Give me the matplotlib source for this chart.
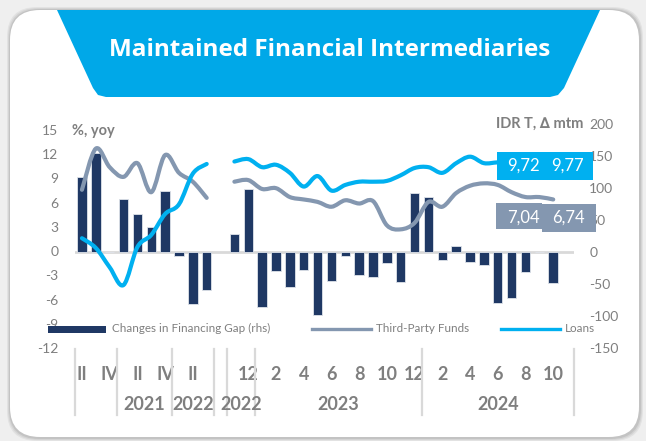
import matplotlib
matplotlib.use("Agg")
import matplotlib.pyplot as plt
import matplotlib.transforms as mtransforms
from matplotlib.patches import FancyBboxPatch, Polygon, Rectangle, PathPatch
from matplotlib.path import Path
from matplotlib.lines import Line2D
import numpy as np

# ---------------- data ----------------
# 36 category slots: 2020Q2..2022Q3 (quarterly), one blank, Nov-2022..Oct-2024 (monthly), one blank
categories = (["2020-II", "2020-III", "2020-IV", "2021-I", "2021-II", "2021-III", "2021-IV",
               "2022-I", "2022-II", "2022-III", ""]
              + ["2022-11", "2022-12"]
              + ["2023-%02d" % m for m in range(1, 13)]
              + ["2024-%02d" % m for m in range(1, 11)]
              + [""])

# Changes in financing gap (IDR T, rhs)
financing_gap = [117, 155, 0, 83, 60, 39, 96, -7, -81, -60, np.nan,
                 28, 99,
                 -86, -30, -55, -28, -99, -45, -7, -36, -39, -17, -47, 92,
                 86, -13, 9, -16, -20, -80, -72, -31, 0, -49,
                 np.nan]

# Third-party funds growth (% yoy) - quarterly part and monthly part
tpf_quarterly = [7.6, 12.7, 10.4, 9.2, 10.9, 7.3, 11.9, 9.7, 8.6, 6.6]
tpf_monthly = [8.6, 8.8, 7.7, 7.8, 6.7, 6.4, 6.1, 5.5, 6.3, 5.9, 6.2, 3.2, 2.7, 3.5,
               6.1, 5.5, 7.2, 8.1, 8.4, 8.2, 7.3, 6.7, 6.7, 6.4]

# Loans growth (% yoy)
loans_quarterly = [1.6, 0.4, -2.0, -4.2, 0.5, 2.0, 4.6, 5.8, 9.6, 10.8]
loans_monthly = [11.1, 11.4, 10.4, 10.7, 9.7, 8.0, 9.3, 7.5, 8.2, 8.6, 8.6, 8.7, 9.4, 10.3,
                 10.4, 9.7, 10.9, 11.7, 10.9, 11.0, 11.0, 11.0, 10.9, 10.9]

loans_labels = ["9,72", "9,77"]
tpf_labels = ["7,04", "6,74"]

tick_idx = [0, 2, 4, 6, 8, 12, 14, 16, 18, 20, 22, 24, 26, 28, 30, 32, 34]
tick_labels = ["II", "IV", "II", "IV", "II", "12", "2", "4", "6", "8", "10",
               "12", "2", "4", "6", "8", "10"]
year_labels = ["2021", "2022", "2022", "2023", "2024"]
year_centers = [4.5, 8, 11.5, 18.5, 30]
group_edges = [-0.5, 2.5, 6.5, 9.5, 10.5, 12.5, 24.5, 35.5]

left_ticks = [-12, -9, -6, -3, 0, 3, 6, 9, 12, 15]
right_ticks = [-150, -100, -50, 0, 50, 100, 150, 200]

# ---------------- style ----------------
NAVY = "#1f3864"
GREY_LINE = "#8497b0"
BLUE = "#00b0f0"
TXT = "#7f7f7f"
FONT = ["Lato", "DejaVu Sans"]
plt.rcParams["font.family"] = FONT

W, H = 646, 441
fig = plt.figure(figsize=(W / 100, H / 100), dpi=100)
fig.patch.set_facecolor("#efefef")
T = fig.dpi_scale_trans


def P(x, y):
    return (x / 100.0, (H - y) / 100.0)


# card with shadow
for off, a in [(6, 0.05), (4, 0.06), (2, 0.08)]:
    fig.patches.append(FancyBboxPatch(P(10 - off / 2, 438 + off / 2), (630 + off) / 100, (428 + off) / 100,
                                      boxstyle="round,pad=0,rounding_size=0.3", transform=T,
                                      facecolor="#000000", alpha=a, edgecolor="none", zorder=-3))
fig.patches.append(FancyBboxPatch(P(10, 437), 629 / 100, 427 / 100,
                                  boxstyle="round,pad=0,rounding_size=0.3", transform=T,
                                  facecolor="white", edgecolor="none", zorder=-2))
# title banner
banner = [P(57, 10), P(600, 10), P(564, 88), P(558, 95), P(550, 97), P(106, 97), P(98, 95), P(93, 88)]
fig.patches.append(Polygon(banner, closed=True, transform=T, facecolor="#00a8e8", edgecolor="none", zorder=-1))
fig.text(330 / W, 1 - 50 / H, "Maintained Financial Intermediaries", ha="center", va="center",
         color="white", fontsize=17.5, fontweight="bold", family=["Open Sans", "DejaVu Sans"])

# ---------------- axes ----------------
ax = fig.add_axes([75 / W, 1 - 348 / H, (574 - 75) / W, (348 - 124) / H])
ax2 = ax.twinx()
ax.set_zorder(ax2.get_zorder() + 1)
ax.patch.set_visible(False)
ax2.patch.set_visible(False)

x = np.arange(len(categories))
ax2.bar(x, financing_gap, width=0.68, color=NAVY, edgecolor="#dfe3ea", linewidth=0.6, zorder=2)
ax2.axhline(0, color="#d9d9d9", lw=2, zorder=1)


def smooth_path(xs, ys):
    pts = np.column_stack([xs, ys]).astype(float)
    n = len(pts)
    verts = [pts[0]]
    codes = [Path.MOVETO]
    for i in range(n - 1):
        p0 = pts[i - 1] if i > 0 else pts[i]
        p1 = pts[i]
        p2 = pts[i + 1]
        p3 = pts[i + 2] if i + 2 < n else pts[i + 1]
        verts += [p1 + (p2 - p0) / 6.0, p2 - (p3 - p1) / 6.0, p2]
        codes += [Path.CURVE4] * 3
    return Path(verts, codes)


xq = x[0:10]
xm = x[11:35]
for xs, ys, col in [(xq, tpf_quarterly, GREY_LINE), (xm, tpf_monthly, GREY_LINE),
                    (xq, loans_quarterly, BLUE), (xm, loans_monthly, BLUE)]:
    ax.add_patch(PathPatch(smooth_path(xs, ys), fill=False, edgecolor=col, lw=3.0,
                           capstyle="round", joinstyle="round", zorder=3))

ax.set_xlim(-0.5, 35.5)
ax.set_ylim(-12, 15.75)
ax2.set_ylim(-150, 200)
for a in (ax, ax2):
    for s in a.spines.values():
        s.set_visible(False)
ax.set_yticks(left_ticks)
ax.set_yticklabels([str(v) for v in left_ticks])
ax2.set_yticks(right_ticks)
ax2.set_yticklabels([str(v) for v in right_ticks])
ax.tick_params(axis="y", length=0, pad=12, labelcolor=TXT, labelsize=10)
ax2.tick_params(axis="y", length=0, pad=11, labelcolor=TXT, labelsize=10)
ax.set_xticks(tick_idx)
ax.set_xticklabels(tick_labels, fontweight="bold")
ax.tick_params(axis="x", length=0, pad=13, labelcolor=TXT, labelsize=13)

btrans = mtransforms.blended_transform_factory(ax.transData, ax.transAxes)
for xc, lab in zip(year_centers, year_labels):
    ax.text(xc, -56 / 224, lab, transform=btrans, ha="center", va="center",
            fontsize=13, fontweight="bold", color=TXT)
for e in group_edges:
    ax.add_line(Line2D([e, e], [-1 / 224, -67 / 224], transform=btrans, color="#d9d9d9",
                       lw=1.6, clip_on=False))

# axis unit labels
fig.text(72 / W, 1 - 131 / H, "%, yoy", ha="left", va="center", fontsize=10.5,
         fontweight="bold", color=TXT)
fig.text(583 / W, 1 - 124 / H, "IDR T, \u2206 mtm", ha="right", va="center", fontsize=10.5,
         fontweight="bold", color=TXT, family=FONT)

# value boxes
fig.patches.append(Rectangle(P(497, 180), 96 / 100, 28 / 100, transform=T, facecolor=BLUE,
                             edgecolor="none", zorder=5))
fig.patches.append(Rectangle(P(496, 229), 46 / 100, 26 / 100, transform=T, facecolor=GREY_LINE,
                             edgecolor="none", zorder=5))
fig.patches.append(Rectangle(P(542, 232), 54 / 100, 28 / 100, transform=T, facecolor=GREY_LINE,
                             edgecolor="none", zorder=5))
for xc, lab in zip([523, 567], loans_labels):
    fig.text(xc / W, 1 - 166 / H, lab, ha="center", va="center", color="white", fontsize=12, zorder=6)
for xc, lab in zip([523, 568], tpf_labels):
    fig.text(xc / W, 1 - 218 / H, lab, ha="center", va="center", color="white", fontsize=12, zorder=6)

# legend
LEG_FS = 8.4
fig.patches.append(Rectangle(P(48, 333), 58 / 100, 7 / 100, transform=T, facecolor=NAVY,
                             edgecolor="none", zorder=5))
fig.text(112 / W, 1 - 328 / H, "Changes in Financing Gap (rhs)", ha="left", va="center",
         fontsize=LEG_FS, color=TXT, zorder=6)
fig.add_artist(Line2D([312 / W, 371 / W], [1 - 329 / H, 1 - 329 / H], color=GREY_LINE, lw=2.4, zorder=5))
fig.text(376 / W, 1 - 328 / H, "Third-Party Funds", ha="left", va="center",
         fontsize=LEG_FS, color=TXT, zorder=6)
fig.add_artist(Line2D([501 / W, 560 / W], [1 - 329 / H, 1 - 329 / H], color=BLUE, lw=2.4, zorder=5))
fig.text(565 / W, 1 - 328 / H, "Loans", ha="left", va="center",
         fontsize=LEG_FS, color=TXT, zorder=6)

fig.savefig("out.png", dpi=100, facecolor=fig.get_facecolor())
